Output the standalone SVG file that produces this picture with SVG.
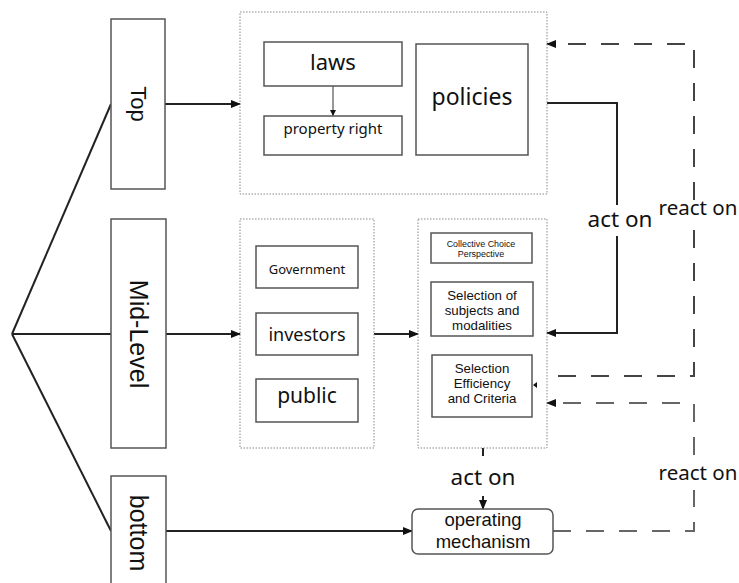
<svg xmlns="http://www.w3.org/2000/svg" width="739" height="583" viewBox="0 0 739 583">
<style>
.lvl{fill:#fff;stroke:#555;stroke-width:1.5}
.box{fill:#fff;stroke:#555;stroke-width:1.5}
.cont{fill:none;stroke:#888;stroke-width:1;stroke-dasharray:1.5 1.5}
.rt{font-family:"Liberation Sans",Arial,sans-serif;fill:#111}
.t{font-family:"Noto Sans","Open Sans",sans-serif;fill:#111;text-anchor:middle}
.s{font-family:"Liberation Sans",Arial,sans-serif;fill:#111;text-anchor:middle}
.ln{fill:none;stroke:#222;stroke-width:2}
.thin{fill:none;stroke:#333;stroke-width:1}
.dash{fill:none;stroke:#444;stroke-width:2;stroke-dasharray:18 15}
.dash2{fill:none;stroke:#666;stroke-width:2;stroke-dasharray:18 15}
</style>
<defs>
<marker id="ah" markerWidth="10" markerHeight="8" refX="9" refY="4" orient="auto" markerUnits="userSpaceOnUse">
<path d="M0,0 L10,4 L0,8 Z" fill="#111"/>
</marker>
<marker id="ahs" markerWidth="6" markerHeight="6" refX="6" refY="3" orient="auto" markerUnits="userSpaceOnUse">
<path d="M0,0 L6,3 L0,6 Z" fill="#111"/>
</marker>
</defs>
<rect width="739" height="583" fill="#fff"/>

<g id="connectors">
<path class="ln" d="M12,334 L111,104"/>
<path class="ln" d="M12,334 L111,334"/>
<path class="ln" d="M12,334 L111,531"/>
<path class="ln" d="M165,104 L240,104" marker-end="url(#ah)"/>
<path class="ln" d="M166,334 L240,334" marker-end="url(#ah)"/>
<path class="ln" d="M166,531 L412,531" marker-end="url(#ah)"/>
<path class="ln" d="M374,334 L418,334" marker-end="url(#ah)"/>
<path class="thin" d="M333,86 L333,116" marker-end="url(#ahs)"/>
<path class="ln" d="M547,103 L617,103 L617,205"/>
<path class="ln" d="M617,236 L617,333 L547,333" marker-end="url(#ah)"/>
<path class="ln" d="M483,448 L483,456"/>
<path class="ln" d="M483,496 L483,509" marker-end="url(#ah)"/>
<path class="dash" d="M694,200 L694,44 L547,44" marker-end="url(#ah)"/>
<path class="dash" d="M694,230 L694,376 L547,376"/>
<path d="M537,382 L533,385 L537,388 Z" fill="#111"/>
<path class="dash2" d="M553,531 L694,531 L694,490"/>
<path class="dash2" d="M694,455 L694,403 L547,403" marker-end="url(#ah)"/>
</g>

<g id="top-level">
<rect class="lvl" x="111" y="19" width="54" height="170"/>
<text class="rt" font-size="22" text-anchor="middle" transform="translate(131,104) rotate(90)">Top</text>
</g>
<g id="mid-level">
<rect class="lvl" x="111" y="219" width="55" height="229"/>
<text class="rt" font-size="25" text-anchor="middle" transform="translate(130,334) rotate(90)">Mid-Level</text>
</g>
<g id="bottom-level">
<rect class="lvl" x="111" y="476" width="55" height="120"/>
<text class="rt" font-size="25" text-anchor="middle" transform="translate(130,533) rotate(90)">bottom</text>
</g>

<g id="top-container">
<rect class="cont" x="240" y="12" width="307" height="182"/>
</g>
<g id="laws">
<rect class="box" x="264" y="42" width="138" height="44"/>
<text class="t" x="333" y="70" font-size="22">laws</text>
</g>
<g id="property-right">
<rect class="box" x="264" y="116" width="138" height="39"/>
<text class="t" x="333" y="134" font-size="15">property right</text>
</g>
<g id="policies">
<rect class="box" x="416" y="44" width="112" height="111"/>
<text class="t" x="472" y="105" font-size="23">policies</text>
</g>

<g id="actors-container">
<rect class="cont" x="240" y="219" width="134" height="229"/>
</g>
<g id="government">
<rect class="box" x="256" y="246" width="102" height="42"/>
<text class="t" x="307" y="274" font-size="13">Government</text>
</g>
<g id="investors">
<rect class="box" x="256" y="313" width="102" height="42"/>
<text class="t" x="307" y="341" font-size="18">investors</text>
</g>
<g id="public">
<rect class="box" x="256" y="379" width="102" height="43"/>
<text class="t" x="307" y="403" font-size="21">public</text>
</g>

<g id="choice-container">
<rect class="cont" x="418" y="219" width="129" height="229"/>
</g>
<g id="collective-choice">
<rect class="box" x="431" y="233" width="101" height="30"/>
<text class="s" x="481" y="246.5" font-size="8.9">Collective Choice</text>
<text class="s" x="481" y="256.5" font-size="8.9">Perspective</text>
</g>
<g id="selection-subjects">
<rect class="box" x="431" y="282" width="102" height="54"/>
<text class="s" x="482" y="300" font-size="13.3">Selection of</text>
<text class="s" x="482" y="315" font-size="13.3">subjects and</text>
<text class="s" x="482" y="330" font-size="13.3">modalities</text>
</g>
<g id="selection-efficiency">
<rect class="box" x="432" y="355" width="100" height="62"/>
<text class="s" x="482" y="373" font-size="13.3">Selection</text>
<text class="s" x="482" y="388" font-size="13.3">Efficiency</text>
<text class="s" x="482" y="403" font-size="13.3">and Criteria</text>
</g>

<g id="operating-mechanism">
<rect class="box" x="412" y="509" width="141" height="45" rx="6"/>
<text class="s" x="483" y="526" font-size="18.5">operating</text>
<text class="s" x="483" y="548" font-size="18.5">mechanism</text>
</g>

<g id="labels">
<text class="t" x="620" y="227" font-size="22.5">act on</text>
<text class="t" x="698" y="215" font-size="20.5">react on</text>
<text class="t" x="483" y="485" font-size="22.5">act on</text>
<text class="t" x="698" y="480" font-size="20.5">react on</text>
</g>
</svg>
